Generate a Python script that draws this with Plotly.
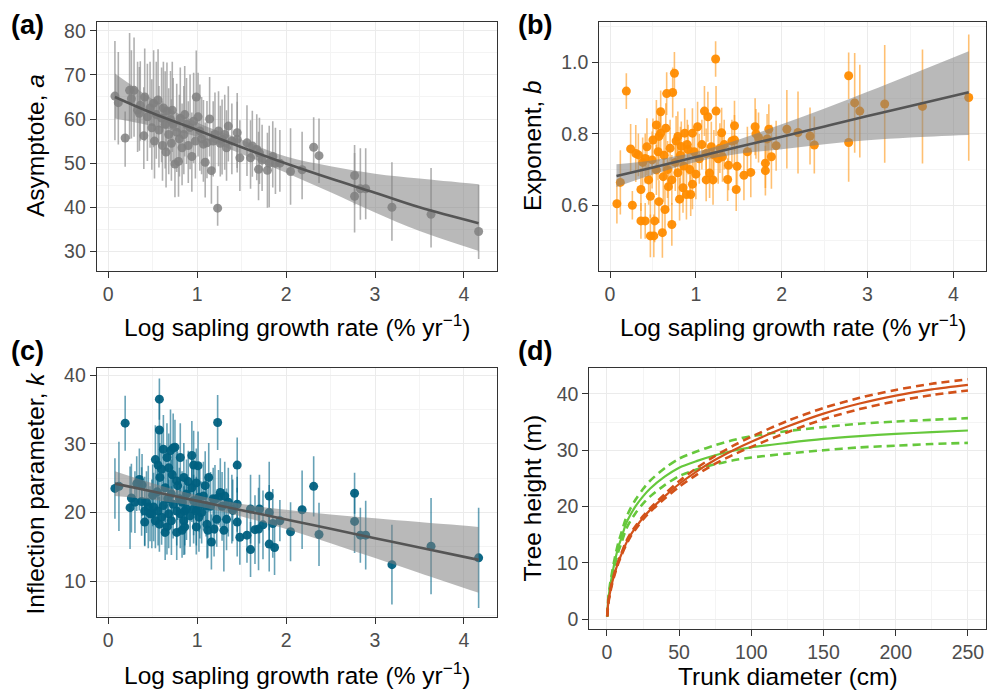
import plotly.graph_objects as go

FONT = "Liberation Sans, Arial, sans-serif"

# ---------------- Panel (a): asymptote a ----------------
a_x = [0.075,0.113,0.19,0.24,0.26,0.29,0.33,0.35,0.36,0.40,0.41,0.44,0.47,0.49,0.51,0.52,0.54,0.56,0.57,0.60,
       0.61,0.62,0.64,0.65,0.66,0.68,0.70,0.71,0.72,0.73,0.75,0.77,0.79,0.80,0.81,0.83,0.85,0.86,0.88,0.90,
       0.92,0.94,0.96,0.98,0.99,1.01,1.03,1.05,1.07,1.09,1.11,1.14,1.16,1.18,1.20,1.23,1.24,1.26,1.28,1.31,
       1.33,1.35,1.39,1.45,1.45,1.48,1.56,1.60,1.62,1.67,1.69,1.70,1.73,1.79,1.81,1.85,1.88,1.93,2.05,2.18,
       2.31,2.37,2.77,2.77,2.835,2.895,3.19,3.63,4.165]
a_y = [65.2,63.7,55.7,66.5,64.6,66.5,62.0,61.3,63.1,56.2,65.0,60.5,62.5,58.0,63.6,55.0,61.0,64.3,57.5,60.2,
       54.0,62.5,58.8,52.5,61.8,56.5,59.9,54.5,62.0,58.8,49.8,57.0,50.4,55.5,60.2,53.5,56.5,61.0,58.8,54.0,
       58.1,51.5,59.5,55.0,65.0,60.5,57.3,55.5,54.3,50.2,54.6,60.0,48.3,55.0,56.5,39.8,57.3,54.5,55.4,56.5,
       53.5,58.4,55.0,56.9,55.4,51.2,54.6,51.2,53.9,53.1,48.6,52.3,50.7,48.4,50.0,51.5,50.0,50.0,48.1,48.5,
       53.6,51.7,47.2,42.5,44.2,44.2,40.0,38.4,34.5]
a_up = [12.5,11.5,6.0,13.0,11.0,12.0,11.0,10.5,10.0,11.0,11.0,12.0,10.5,11.0,12.0,10.0,12.0,11.5,10.0,11.5,
        10.0,10.5,12.0,9.5,11.0,10.5,11.0,10.0,11.0,10.5,10.0,11.0,10.5,10.0,11.5,10.0,11.0,11.0,10.5,10.0,
        12.0,10.0,11.0,10.0,10.5,10.0,10.5,9.5,10.0,9.0,9.5,9.5,9.0,9.0,9.5,5.0,9.0,8.5,9.0,9.0,
        8.5,9.0,8.5,9.0,8.5,8.5,8.5,8.5,8.0,8.0,8.5,8.0,8.0,8.5,8.5,8.0,8.0,7.5,9.8,8.6,
        6.8,8.4,6.9,9.8,9.2,9.2,10.2,10.5,10.6]
a_dn = [10.0,9.5,6.5,11.0,9.0,10.5,9.5,8.5,8.0,7.5,10.0,10.0,9.0,9.5,10.0,8.5,10.0,9.5,8.5,10.0,
        8.0,9.0,10.0,8.0,9.0,9.0,9.5,8.5,9.5,9.5,7.5,9.0,8.0,8.5,10.0,8.5,9.0,9.5,9.0,8.5,
        9.5,8.0,9.5,8.5,9.0,9.0,9.0,8.0,8.5,8.0,8.0,8.5,7.5,8.0,8.0,4.0,8.0,7.5,8.0,8.0,
        7.5,8.0,7.5,8.0,7.5,7.5,7.5,7.0,7.0,7.0,7.0,7.0,7.0,8.5,10.0,7.0,7.0,6.5,7.5,6.7,
        5.2,6.2,6.6,8.2,7.0,6.9,7.6,7.5,6.2]
a_fit_x = [0.075, 0.5, 1.0, 1.5, 2.0, 2.5, 3.0, 3.5, 4.165]
a_fit = [65.0, 61.3, 57.5, 53.6, 49.9, 46.5, 43.3, 40.0, 36.4]
a_lo = [60.1, 58.4, 56.0, 52.1, 47.8, 43.4, 38.8, 34.6, 30.1]
a_hi = [70.3, 64.5, 59.2, 55.3, 51.5, 49.3, 47.6, 46.5, 45.2]

# ---------------- Panel (b): exponent b ----------------
b_x = [0.08,0.12,0.19,0.24,0.26,0.30,0.33,0.36,0.36,0.38,0.41,0.41,0.43,0.45,0.47,0.47,0.49,0.50,0.51,0.52,
       0.54,0.54,0.56,0.57,0.57,0.59,0.59,0.61,0.62,0.63,0.64,0.65,0.66,0.67,0.68,0.70,0.72,0.72,0.73,0.75,
       0.76,0.77,0.79,0.79,0.81,0.82,0.83,0.85,0.86,0.87,0.89,0.90,0.91,0.93,0.94,0.96,0.96,0.98,1.00,1.02,
       1.04,1.07,1.10,1.12,1.12,1.14,1.16,1.18,1.20,1.21,1.23,1.235,1.26,1.28,1.30,1.31,1.33,1.37,1.38,1.42,
       1.45,1.45,1.47,1.48,1.56,1.60,1.64,1.69,1.70,1.73,1.81,1.81,1.83,1.85,1.88,1.935,2.06,2.19,2.33,2.38,
       2.78,2.78,2.85,2.91,3.20,3.64,4.179]
b_y = [0.604,0.664,0.920,0.758,0.600,0.745,0.741,0.556,0.644,0.720,0.556,0.731,0.764,0.671,0.514,0.625,0.727,0.783,0.514,0.556,
       0.825,0.699,0.750,0.793,0.610,0.862,0.802,0.523,0.680,0.740,0.588,0.816,0.913,0.700,0.652,0.760,0.546,0.671,0.916,0.970,
       0.720,0.780,0.793,0.691,0.617,0.740,0.765,0.649,0.710,0.802,0.630,0.770,0.756,0.700,0.630,0.802,0.659,0.750,0.687,0.820,
       0.730,0.770,0.864,0.745,0.671,0.848,0.690,0.764,0.671,0.741,1.010,0.864,0.730,0.760,0.803,0.736,0.770,0.672,0.712,0.780,
       0.823,0.783,0.644,0.709,0.684,0.750,0.692,0.820,0.800,0.790,0.718,0.697,0.786,0.813,0.736,0.767,0.813,0.804,0.794,0.769,
       0.963,0.776,0.887,0.864,0.884,0.877,0.902]
b_err = [0.055,0.09,0.05,0.07,0.04,0.08,0.06,0.05,0.06,0.07,0.05,0.07,0.08,0.07,0.06,0.06,0.08,0.06,0.06,0.06,
         0.07,0.07,0.08,0.07,0.06,0.06,0.07,0.07,0.07,0.07,0.06,0.07,0.06,0.08,0.07,0.08,0.06,0.07,0.07,0.06,
         0.08,0.07,0.07,0.07,0.06,0.08,0.07,0.07,0.07,0.07,0.07,0.07,0.07,0.07,0.06,0.07,0.07,0.07,0.07,0.07,
         0.07,0.07,0.07,0.07,0.06,0.07,0.07,0.07,0.07,0.07,0.05,0.07,0.07,0.07,0.07,0.07,0.07,0.06,0.07,0.06,
         0.07,0.07,0.06,0.07,0.07,0.07,0.07,0.08,0.07,0.07,0.07,0.07,0.07,0.07,0.09,0.07,0.11,0.115,0.08,0.08,
         0.065,0.11,0.14,0.13,0.165,0.16,0.177]
b_fit_x = [0.075, 0.5, 1.0, 1.5, 2.0, 2.5, 3.0, 3.5, 4.179]
b_fit = [0.682, 0.706, 0.735, 0.764, 0.792, 0.821, 0.850, 0.878, 0.917]
b_lo = [0.651, 0.686, 0.721, 0.744, 0.757, 0.771, 0.782, 0.790, 0.797]
b_hi = [0.715, 0.726, 0.749, 0.784, 0.827, 0.871, 0.918, 0.966, 1.032]

# ---------------- Panel (c): inflection parameter k ----------------
c_x = [0.075,0.12,0.19,0.245,0.26,0.30,0.32,0.35,0.375,0.38,0.41,0.41,0.43,0.45,0.47,0.49,0.50,0.51,0.53,0.53,
       0.55,0.56,0.56,0.575,0.575,0.575,0.58,0.60,0.60,0.62,0.62,0.64,0.64,0.66,0.66,0.67,0.68,0.68,0.70,0.71,
       0.71,0.72,0.73,0.73,0.75,0.77,0.77,0.77,0.78,0.80,0.81,0.81,0.83,0.83,0.85,0.85,0.86,0.86,0.88,0.88,
       0.90,0.92,0.94,0.94,0.96,0.96,0.96,0.99,0.99,0.99,1.01,1.02,1.02,1.03,1.05,1.07,1.09,1.10,1.11,1.12,
       1.13,1.15,1.16,1.18,1.19,1.20,1.22,1.23,1.24,1.26,1.28,1.30,1.31,1.33,1.35,1.39,1.40,1.45,1.45,1.45,
       1.48,1.56,1.60,1.60,1.65,1.69,1.70,1.74,1.81,1.81,1.81,1.85,1.87,1.93,2.05,2.18,2.31,2.37,2.77,2.77,
       2.835,2.895,3.19,3.63,4.165]
c_y = [23.5,23.8,33.0,20.7,22.1,21.5,24.2,24.8,21.6,24.0,18.6,20.2,21.5,20.8,19.8,19.8,22.5,20.8,27.7,18.8,
       23.0,26.9,20.2,36.5,32.0,18.3,25.1,26.3,19.3,29.2,21.0,23.6,17.1,28.0,17.9,22.0,26.5,19.8,29.0,22.7,
       18.8,25.5,29.4,21.2,29.5,24.6,20.2,17.1,23.9,22.0,28.0,19.8,17.4,21.5,25.1,18.8,20.2,17.9,22.7,20.5,
       24.5,19.5,28.3,23.6,26.9,21.7,20.5,24.3,20.2,17.9,26.8,22.2,19.3,21.2,20.0,22.4,23.9,21.0,18.3,17.4,
       25.1,20.9,15.7,22.0,17.6,21.9,19.0,33.1,22.2,22.9,20.9,17.4,22.4,19.0,21.5,20.5,20.3,26.9,21.2,18.6,
       16.4,16.7,20.5,14.6,17.5,17.6,20.5,18.2,22.4,20.0,15.4,18.4,14.9,18.8,17.2,20.4,23.8,16.8,22.8,18.7,
       16.7,16.7,12.4,15.1,13.4]
c_err = [4.4,6.5,4.0,6.0,5.0,4.5,4.0,4.5,5.0,4.5,3.5,5.0,4.5,6.0,4.0,5.0,4.5,5.0,5.0,4.0,
         4.5,5.0,5.0,3.0,5.0,4.0,5.0,6.0,4.0,5.0,4.5,5.0,4.0,5.0,4.0,4.5,5.0,5.0,6.0,5.0,
         5.0,4.5,5.0,5.0,4.0,5.0,5.0,4.0,5.0,4.5,5.0,5.0,4.0,4.5,5.0,5.0,5.0,4.0,5.0,4.5,
         4.5,4.5,5.0,5.0,5.0,5.0,5.0,5.0,5.0,4.0,5.0,5.0,5.0,5.0,4.5,5.0,5.0,4.5,5.0,4.0,
         5.0,5.0,4.0,4.5,4.0,5.0,4.0,4.0,4.0,5.0,5.0,6.0,5.0,4.5,5.0,5.0,4.5,4.0,4.0,5.0,
         4.0,4.0,5.0,4.0,5.0,6.0,5.0,5.0,5.0,4.0,4.0,5.0,4.0,3.0,4.3,5.7,4.4,4.6,3.0,4.6,
         4.0,5.0,5.8,7.0,7.3]
c_fit_x = [0.075, 0.5, 1.0, 1.5, 2.0, 2.5, 3.0, 3.5, 4.165]
c_fit = [24.2, 23.05, 21.69, 20.33, 18.98, 17.62, 16.26, 14.9, 13.1]
c_lo = [22.4, 21.85, 20.89, 19.43, 17.58, 15.52, 13.36, 11.2, 8.3]
c_hi = [26.0, 24.25, 22.49, 21.23, 20.38, 19.72, 19.16, 18.6, 17.9]

# ---------------- Panel (d): height-diameter curves ----------------
d_dbh = [0.2, 1, 2, 3, 5, 8, 10, 13, 16, 20, 25, 30, 40, 50, 62.5, 75, 87.5, 100, 125, 150, 175, 200, 225, 250]
red_h = [0.5, 3.0, 4.5, 5.8, 7.8, 10.2, 11.5, 13.3, 14.8, 16.3, 18.0, 19.4, 21.8, 24.0, 26.3, 28.3, 30.0, 31.5,
         34.2, 36.5, 38.3, 39.7, 40.8, 41.6]
red_hi = [0.55, 3.2, 4.7, 6.0, 8.0, 10.4, 11.7, 13.6, 15.1, 16.6, 18.3, 19.7, 22.2, 24.5, 26.9, 29.0, 30.8, 32.4,
          35.2, 37.5, 39.3, 40.7, 41.8, 42.6]
red_lo = [0.45, 2.8, 4.3, 5.6, 7.6, 10.0, 11.3, 13.0, 14.5, 16.0, 17.7, 19.1, 21.4, 23.5, 25.7, 27.6, 29.2, 30.6,
          33.2, 35.5, 37.3, 38.7, 39.8, 40.6]
green_h = [0.5, 3.5, 5.5, 7.0, 9.7, 12.9, 14.4, 16.8, 18.4, 20.1, 21.8, 23.2, 25.3, 26.9, 28.1, 29.1, 29.9, 30.5,
           31.3, 32.0, 32.5, 32.9, 33.2, 33.5]
green_hi = [0.6, 3.8, 5.9, 7.5, 10.3, 13.7, 15.3, 17.8, 19.5, 21.3, 23.1, 24.6, 26.8, 28.5, 29.8, 30.9, 31.8, 32.5,
            33.4, 34.1, 34.7, 35.1, 35.4, 35.7]
green_lo = [0.4, 3.2, 5.1, 6.5, 9.1, 12.1, 13.5, 15.8, 17.3, 18.9, 20.5, 21.8, 23.8, 25.4, 26.6, 27.5, 28.2, 28.7,
            29.4, 30.0, 30.5, 30.8, 31.1, 31.3]

# ---------------- Figure ----------------
# The page draws the figure a few pixels in from its corner; positions below are page pixels.
OX, OY = 8, 11
W, H = 995, 696
RIGHT = 986  # right edge of the right-hand panels (kept inside the visible page)
fig = go.Figure()

BAND = "rgba(128,128,128,0.55)"
FITLINE = "#555555"


def scatter_panel(x, y, eplus, eminus, pt_color, bar_color, xa, ya):
    fig.add_trace(go.Scatter(
        x=x, y=y, mode="markers", xaxis=xa, yaxis=ya, showlegend=False,
        marker=dict(size=9, color=pt_color, line=dict(width=0)),
        error_y=dict(type="data", symmetric=False, array=eplus, arrayminus=eminus,
                     color=bar_color, thickness=1.6, width=0),
        hoverinfo="skip"))


def band_panel(fx, fy, lo, hi, xa, ya):
    fig.add_trace(go.Scatter(x=fx, y=lo, mode="lines", line=dict(width=0, shape="spline"),
                             xaxis=xa, yaxis=ya, showlegend=False, hoverinfo="skip"))
    fig.add_trace(go.Scatter(x=fx, y=hi, mode="lines", line=dict(width=0, shape="spline"),
                             fill="tonexty", fillcolor=BAND,
                             xaxis=xa, yaxis=ya, showlegend=False, hoverinfo="skip"))
    fig.add_trace(go.Scatter(x=fx, y=fy, mode="lines", line=dict(width=2.6, color=FITLINE, shape="spline"),
                             xaxis=xa, yaxis=ya, showlegend=False, hoverinfo="skip"))


assert len(a_x) == len(a_y) == len(a_up) == len(a_dn)
assert len(b_x) == len(b_y) == len(b_err)
assert len(c_x) == len(c_y) == len(c_err)

scatter_panel(a_x, a_y, a_up, a_dn, "rgba(128,128,128,0.85)", "rgba(150,150,150,0.75)", "x", "y")
band_panel(a_fit_x, a_fit, a_lo, a_hi, "x", "y")

scatter_panel(b_x, b_y, b_err, b_err, "rgba(255,140,0,0.95)", "rgba(255,150,20,0.6)", "x2", "y2")
band_panel(b_fit_x, b_fit, b_lo, b_hi, "x2", "y2")

scatter_panel(c_x, c_y, c_err, c_err, "rgba(0,96,128,0.95)", "rgba(0,100,135,0.6)", "x3", "y3")
band_panel(c_fit_x, c_fit, c_lo, c_hi, "x3", "y3")

RED = "#D2521A"
GREEN = "#66C83C"
for ys, col, dash, w in [(green_lo, GREEN, "8px,5px", 2.6), (green_hi, GREEN, "8px,5px", 2.6),
                         (green_h, GREEN, "solid", 2.2),
                         (red_lo, RED, "8px,5px", 2.6), (red_hi, RED, "8px,5px", 2.6),
                         (red_h, RED, "solid", 2.2)]:
    fig.add_trace(go.Scatter(x=d_dbh, y=ys, mode="lines", xaxis="x4", yaxis="y4", showlegend=False,
                             line=dict(color=col, width=w, dash=dash, shape="spline", smoothing=0.8),
                             hoverinfo="skip"))


def axis(domain, rng, dtick, minor_dtick, anchor, fmt=None):
    d = dict(domain=domain, range=rng, dtick=dtick, tick0=0, anchor=anchor,
             showline=True, mirror=True, linecolor="#333333", linewidth=1.1,
             ticks="outside", ticklen=6, tickwidth=1.1, tickcolor="#333333",
             showgrid=True, gridcolor="#EBEBEB", gridwidth=1.2, zeroline=False,
             tickfont=dict(size=19.5, color="#4D4D4D", family=FONT),
             minor=dict(dtick=minor_dtick, tick0=0, showgrid=True, gridcolor="#F4F4F4", gridwidth=0.8),
             ticklabeloverflow="allow", fixedrange=True)
    if fmt:
        d["tickformat"] = fmt
    return d


def px_x(a, b):
    return [(a - OX) / W, (b - OX) / W]


def px_y(top, bottom):
    return [1 - (bottom - OY) / H, 1 - (top - OY) / H]


fig.update_layout(
    width=W, height=H, margin=dict(l=0, r=0, t=0, b=0),
    paper_bgcolor="white", plot_bgcolor="white",
    font=dict(family=FONT, color="black"),
    xaxis=axis(px_x(96.7, 497.3), [-0.13, 4.375], 1, 0.5, "y"),
    yaxis=axis(px_y(21, 271.7), [25.6, 82.0], 10, 5, "x"),
    xaxis2=axis(px_x(599.3, RIGHT), [-0.125, 4.38], 1, 0.5, "y2"),
    yaxis2=axis(px_y(21, 271.7), [0.416, 1.114], 0.2, 0.1, "x2", ".1f"),
    xaxis3=axis(px_x(96.7, 497.3), [-0.13, 4.375], 1, 0.5, "y3"),
    yaxis3=axis(px_y(369.3, 620), [4.84, 41.07], 10, 5, "x3"),
    xaxis4=axis(px_x(589.3, RIGHT), [-12.2, 262.5], 50, 25, "y4"),
    yaxis4=axis(px_y(369.3, 632.5), [-1.76, 44.65], 10, 5, "x4"),
)

TS = 24.5
XT = "Log sapling growth rate (% yr<sup>−1</sup>)"
labels = [
    (XT, 297, 327, 0), ("Asymptote, <i>a</i>", 35, 146, -90),
    (XT, (599.3 + RIGHT) / 2, 327, 0), ("Exponent, <i>b</i>", 532, 146, -90),
    (XT, 297, 677, 0), ("Inflection parameter, <i>k</i>", 36, 496, -90),
    ("Trunk diameter (cm)", (589.3 + RIGHT) / 2, 680, 0), ("Tree height (m)", 532, 501, -90),
]
for txt, cx, cy, ang in labels:
    fig.add_annotation(text=txt, x=(cx - OX) / W, y=1 - (cy - OY) / H, xref="paper", yref="paper",
                       xanchor="center", yanchor="middle", showarrow=False, textangle=ang,
                       font=dict(size=TS, color="black", family=FONT))

for txt, cx, cy in [("(a)", 27.5, 24), ("(b)", 535, 24.5), ("(c)", 27.5, 352), ("(d)", 535, 352)]:
    fig.add_annotation(text="<b>" + txt + "</b>", x=(cx - OX) / W, y=1 - (cy - OY) / H,
                       xref="paper", yref="paper",
                       xanchor="center", yanchor="middle", showarrow=False,
                       font=dict(size=27, color="black", family=FONT))

fig.write_html("out.html")
